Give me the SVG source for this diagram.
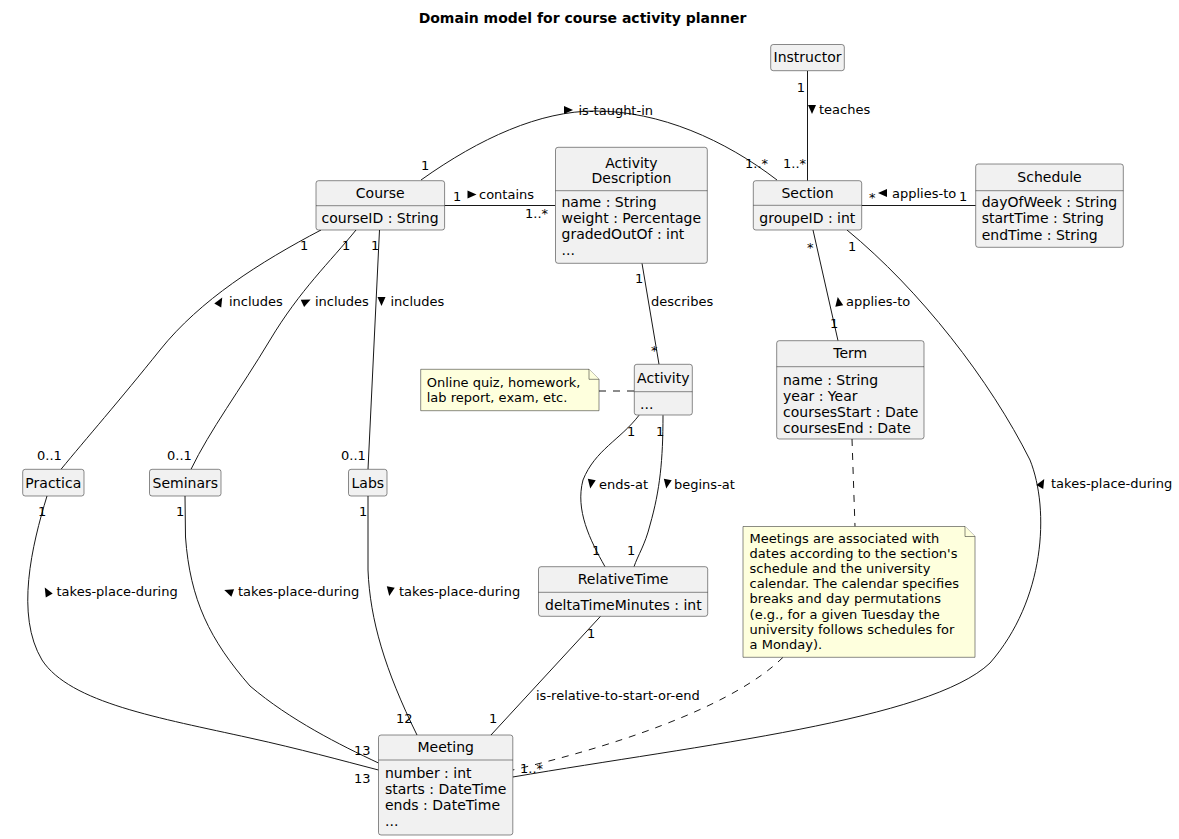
<svg xmlns="http://www.w3.org/2000/svg" width="1179" height="839" viewBox="0 0 1179 839">
<style>
text{font-family:"DejaVu Sans","Liberation Sans",sans-serif;fill:#000}
.title{font-size:14px;font-weight:bold}
.cn{font-size:14px;text-anchor:middle}
.at{font-size:14px}
.lb{font-size:13px}
.nt{font-size:13px}
.box{fill:#F1F1F1;stroke:#181818;stroke-width:0.5}
.div{stroke:#181818;stroke-width:0.5}
.ln{fill:none;stroke:#181818;stroke-width:1}
.dash{fill:none;stroke:#181818;stroke-width:1;stroke-dasharray:7,7}
.note{fill:#FEFFDD;stroke:#181818;stroke-width:0.5}
.tri{fill:#000}
</style>
<defs>
<path id="tri" d="M-4.5,-4 L4.5,0 L-4.5,4 Z"/>
</defs>
<rect width="1179" height="839" fill="#FFFFFF"/>
<text class="title" x="582.5" y="23" text-anchor="middle">Domain model for course activity planner</text>

<g id="connectors">
<path class="ln" d="M421,180 C480,138 540,111 595,111 C660,111 725,140 777,180"/>
<path class="ln" d="M807.5,71 L807.5,180.7"/>
<path class="ln" d="M444.6,205.5 L555,205.5"/>
<path class="ln" d="M861.7,205.5 L975.7,205.5"/>
<path class="ln" d="M813,230 L838,340.7"/>
<path class="ln" d="M642,263.3 L659,364.3"/>
<path class="dash" d="M599,391 L634.3,391"/>
<path class="ln" d="M321,230 C260,262 200,300 160,350 C120,400 85,440 61,469.3"/>
<path class="ln" d="M356,230 C330,262 300,290 270,340 C240,390 210,430 191,469.3"/>
<path class="ln" d="M379.5,230 L368,469.3"/>
<path class="ln" d="M47,496 C32,545 15,615 42,660 C70,703 160,718 250,738 C300,749 340,760 378.5,770"/>
<path class="ln" d="M185,496 L185.5,537 C190,600 210,640 250,686 C290,720 340,745 378.5,763"/>
<path class="ln" d="M368,496 L368,570 C370,620 385,670 417,735"/>
<path class="ln" d="M639,415.3 C620,440 595,450 583,480 C575,510 590,540 605,566.7"/>
<path class="ln" d="M663,415.3 C663,460 660,490 650,525 C645,545 638,555 634,566.7"/>
<path class="ln" d="M600.5,616.3 L491,735"/>
<path class="ln" d="M847,230 C920,290 990,380 1030,460 C1050,510 1045,600 990,663 C930,720 700,745 512.8,777"/>
<path class="dash" d="M852,439 L855,526.5"/>
<path class="dash" d="M783,657.3 C740,700 640,740 512.8,770"/>

<use href="#tri" class="tri" transform="translate(568.5,110)"/>
<text class="lb" x="578.5" y="114.5">is-taught-in</text>
<text class="lb" x="421" y="169.5">1</text>
<text class="lb" x="745" y="168">1..*</text>

<text class="lb" x="805" y="92" text-anchor="end">1</text>
<use href="#tri" class="tri" transform="translate(812,109.5) rotate(90)"/>
<text class="lb" x="819" y="114">teaches</text>
<text class="lb" x="783" y="168">1..*</text>

<text class="lb" x="453" y="201">1</text>
<use href="#tri" class="tri" transform="translate(472,194.5)"/>
<text class="lb" x="479" y="199">contains</text>
<text class="lb" x="525" y="217.5">1..*</text>

<text class="lb" x="869" y="202">*</text>
<use href="#tri" class="tri" transform="translate(882.5,193) rotate(180)"/>
<text class="lb" x="892" y="197.5">applies-to</text>
<text class="lb" x="959" y="201">1</text>

<text class="lb" x="807" y="252">*</text>
<use href="#tri" class="tri" transform="translate(838.5,301.5) rotate(-100)"/>
<text class="lb" x="846" y="306">applies-to</text>
<text class="lb" x="830" y="328">1</text>

<text class="lb" x="848" y="251">1</text>
<use href="#tri" class="tri" transform="translate(1042,483) rotate(-60)"/>
<text class="lb" x="1051" y="488">takes-place-during</text>
<text class="lb" x="520" y="773">1..*</text>

<text class="lb" x="635" y="283">1</text>
<text class="lb" x="651" y="306">describes</text>
<text class="lb" x="651" y="355">*</text>

<text class="lb" x="627" y="436">1</text>
<text class="lb" x="656" y="436">1</text>
<use href="#tri" class="tri" transform="translate(591,484) rotate(100)"/>
<text class="lb" x="599" y="488.5">ends-at</text>
<use href="#tri" class="tri" transform="translate(667,484) rotate(100)"/>
<text class="lb" x="674" y="488.5">begins-at</text>
<text class="lb" x="592" y="555">1</text>
<text class="lb" x="627" y="555">1</text>

<text class="lb" x="587" y="638">1</text>
<text class="lb" x="536" y="700">is-relative-to-start-or-end</text>
<text class="lb" x="489" y="723">1</text>

<text class="lb" x="300" y="250">1</text>
<text class="lb" x="342" y="250">1</text>
<text class="lb" x="371" y="250">1</text>
<use href="#tri" class="tri" transform="translate(220,301.5) rotate(-60)"/>
<text class="lb" x="229" y="306">includes</text>
<use href="#tri" class="tri" transform="translate(306.5,301.5) rotate(-25)"/>
<text class="lb" x="315" y="306">includes</text>
<use href="#tri" class="tri" transform="translate(381.5,301.5) rotate(90)"/>
<text class="lb" x="390.5" y="306">includes</text>
<text class="lb" x="37" y="459.5">0..1</text>
<text class="lb" x="167" y="459.5">0..1</text>
<text class="lb" x="341" y="459.5">0..1</text>

<text class="lb" x="38" y="516">1</text>
<text class="lb" x="176" y="516">1</text>
<text class="lb" x="359" y="516">1</text>
<use href="#tri" class="tri" transform="translate(47,591.5) rotate(-120)"/>
<text class="lb" x="56.5" y="596">takes-place-during</text>
<use href="#tri" class="tri" transform="translate(228.5,591.5) rotate(-160)"/>
<text class="lb" x="238" y="596">takes-place-during</text>
<use href="#tri" class="tri" transform="translate(390,591.5) rotate(100)"/>
<text class="lb" x="399" y="596">takes-place-during</text>
<text class="lb" x="396" y="723">12</text>
<text class="lb" x="354" y="754.5">13</text>
<text class="lb" x="354" y="783">13</text>
</g>

<g id="instructor">
<rect class="box" x="770.7" y="44.5" width="73.6" height="26.2" rx="2.5"/>
<text class="cn" x="807.5" y="62">Instructor</text>
</g>

<g id="course">
<rect class="box" x="316" y="180.7" width="128.6" height="49.3" rx="2.5"/>
<line class="div" x1="316" y1="205.7" x2="444.6" y2="205.7"/>
<text class="cn" x="380.3" y="198.3">Course</text>
<text class="at" x="321.5" y="223">courseID : String</text>
</g>

<g id="activity-description">
<rect class="box" x="555.5" y="147.3" width="151.8" height="116" rx="2.5"/>
<line class="div" x1="555.5" y1="190.7" x2="707.3" y2="190.7"/>
<text class="cn" x="631.4" y="167.5">Activity</text>
<text class="cn" x="631.4" y="183">Description</text>
<text class="at" x="561.5" y="207">name : String</text>
<text class="at" x="561.5" y="223">weight : Percentage</text>
<text class="at" x="561.5" y="239">gradedOutOf : int</text>
<text class="at" x="561.5" y="255">...</text>
</g>

<g id="section">
<rect class="box" x="753.3" y="180.7" width="108.4" height="49.3" rx="2.5"/>
<line class="div" x1="753.3" y1="205.3" x2="861.7" y2="205.3"/>
<text class="cn" x="807.5" y="198.3">Section</text>
<text class="at" x="759.3" y="223">groupeID : int</text>
</g>

<g id="schedule">
<rect class="box" x="975.7" y="164" width="147.6" height="83.3" rx="2.5"/>
<line class="div" x1="975.7" y1="190.7" x2="1123.3" y2="190.7"/>
<text class="cn" x="1049.5" y="182.3">Schedule</text>
<text class="at" x="981.7" y="207">dayOfWeek : String</text>
<text class="at" x="981.7" y="223">startTime : String</text>
<text class="at" x="981.7" y="239.5">endTime : String</text>
</g>

<g id="term">
<rect class="box" x="776.7" y="340.7" width="147.3" height="98.3" rx="2.5"/>
<line class="div" x1="776.7" y1="366.7" x2="924" y2="366.7"/>
<text class="cn" x="850.3" y="357.7">Term</text>
<text class="at" x="783" y="385">name : String</text>
<text class="at" x="783" y="401">year : Year</text>
<text class="at" x="783" y="417">coursesStart : Date</text>
<text class="at" x="783" y="433">coursesEnd : Date</text>
</g>

<g id="activity">
<rect class="box" x="634.3" y="364.3" width="58" height="50.7" rx="2.5"/>
<line class="div" x1="634.3" y1="391.7" x2="692.3" y2="391.7"/>
<text class="cn" x="663.3" y="383.3">Activity</text>
<text class="at" x="640" y="409">...</text>
</g>

<g id="note-activity">
<path class="note" d="M420.7,369.3 L589,369.3 L599,379.3 L599,410.7 L420.7,410.7 Z"/>
<path class="note" d="M589,369.3 L589,379.3 L599,379.3"/>
<text class="nt" x="426.7" y="387">Online quiz, homework,</text>
<text class="nt" x="426.7" y="402">lab report, exam, etc.</text>
</g>

<g id="practica">
<rect class="box" x="22.7" y="469.3" width="61.3" height="26.7" rx="2.5"/>
<text class="cn" x="53.3" y="487.7">Practica</text>
</g>

<g id="seminars">
<rect class="box" x="149.5" y="469.3" width="71.5" height="26.7" rx="2.5"/>
<text class="cn" x="185.3" y="487.7">Seminars</text>
</g>

<g id="labs">
<rect class="box" x="348.5" y="469.3" width="38.5" height="26.7" rx="2.5"/>
<text class="cn" x="367.8" y="487.7">Labs</text>
</g>

<g id="relative-time">
<rect class="box" x="538.5" y="566.7" width="169.2" height="49.6" rx="2.5"/>
<line class="div" x1="538.5" y1="592.3" x2="707.7" y2="592.3"/>
<text class="cn" x="623.1" y="584">RelativeTime</text>
<text class="at" x="545" y="610">deltaTimeMinutes : int</text>
</g>

<g id="note-meetings">
<path class="note" d="M743,526.5 L965,526.5 L975,536.5 L975,657.3 L743,657.3 Z"/>
<path class="note" d="M965,526.5 L965,536.5 L975,536.5"/>
<text class="nt" x="749.6" y="543">Meetings are associated with</text>
<text class="nt" x="749.6" y="558.1">dates according to the section's</text>
<text class="nt" x="749.6" y="573.2">schedule and the university</text>
<text class="nt" x="749.6" y="588.3">calendar. The calendar specifies</text>
<text class="nt" x="749.6" y="603.4">breaks and day permutations</text>
<text class="nt" x="749.6" y="618.5">(e.g., for a given Tuesday the</text>
<text class="nt" x="749.6" y="633.6">university follows schedules for</text>
<text class="nt" x="749.6" y="648.7">a Monday).</text>
</g>

<g id="meeting">
<rect class="box" x="378.5" y="735" width="134.3" height="100" rx="2.5"/>
<line class="div" x1="378.5" y1="760" x2="512.8" y2="760"/>
<text class="cn" x="445.7" y="751.7">Meeting</text>
<text class="at" x="385" y="778">number : int</text>
<text class="at" x="385" y="794">starts : DateTime</text>
<text class="at" x="385" y="810">ends : DateTime</text>
<text class="at" x="385" y="826">...</text>
</g>
</svg>
